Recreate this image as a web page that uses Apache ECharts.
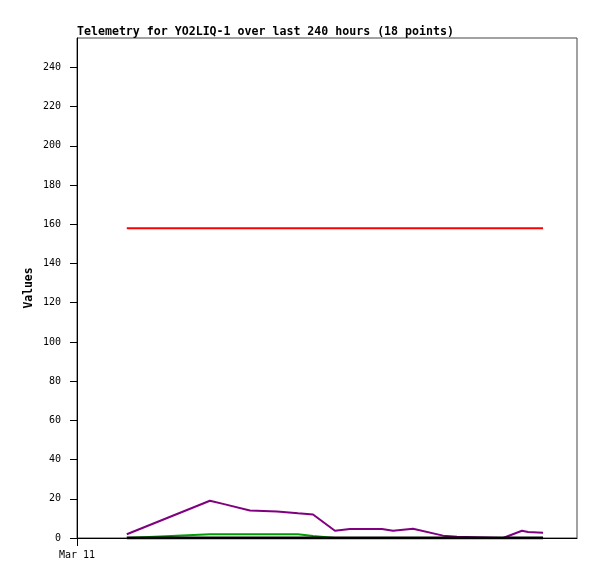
<!DOCTYPE html>
<html>
<head>
<meta charset="utf-8">
<script src="https://cdn.jsdelivr.net/npm/echarts@6/dist/echarts.min.js"></script>
<style>
html,body{margin:0;padding:0;background:#fff;}
#chart{width:597px;height:579px;}
</style>
</head>
<body>
<div id="chart"></div>
<script>
// hours since Mar 11 00:00
var hours = [23.9, 63.8, 70.1, 83.0, 96.0, 106.1, 113.3, 123.8, 131.0, 146.4, 151.7, 161.3, 175.7, 182.4, 204.5, 213.6, 216.5, 223.7];
var purpleValues = [1.9, 19.0, 17.4, 14.0, 13.5, 12.6, 12.0, 3.7, 4.6, 4.6, 3.7, 4.7, 1.2, 0.6, 0, 3.7, 3.1, 2.7];
var redValues = [158, 158, 158, 158, 158, 158, 158, 158, 158, 158, 158, 158, 158, 158, 158, 158, 158, 158];
var greenValues = [0, 1.9, 1.9, 1.9, 1.9, 1.9, 1.0, 0, 0, 0, 0, 0, 0, 0, 0, 0, 0, 0];
var blackValues = [0, 0, 0, 0, 0, 0, 0, 0, 0, 0, 0, 0, 0, 0, 0, 0, 0, 0];
var yTicks = [0, 20, 40, 60, 80, 100, 120, 140, 160, 180, 200, 220, 240];
var xTickLabels = ['Mar 11'];
var xTickValues = [0];
var titleText = 'Telemetry for YO2LIQ-1 over last 240 hours (18 points)';

function pairs(vals){ return hours.map(function(h,i){ return [h, vals[i]]; }); }

var font = 'DejaVu Sans Mono, Liberation Mono, monospace';
var chart = echarts.init(document.getElementById('chart'), null, {renderer:'canvas'});
function mk(name, vals, color, w){
  return {name:name, type:'line', data:pairs(vals), symbol:'none', animation:false,
    lineStyle:{color:color, width:w}, itemStyle:{color:color}};
}
chart.setOption({
  animation:false,
  backgroundColor:'#fff',
  title:{text:titleText, left:77, top:26, padding:0,
    textStyle:{fontFamily:font, fontSize:11.6, fontWeight:'bold', color:'#000'}},
  grid:{left:77, top:38, width:500, height:500, show:true, borderColor:'#444', borderWidth:1, backgroundColor:'#fff'},
  xAxis:{type:'value', min:0, max:240,
    axisLine:{lineStyle:{color:'#000', width:1}},
    axisTick:{show:true, length:8, customValues:xTickValues, lineStyle:{color:'#000'}},
    axisLabel:{customValues:xTickValues, margin:12, formatter:function(v){ var i = xTickValues.indexOf(v); return i>=0 ? xTickLabels[i] : ''; },
      fontFamily:font, fontSize:10, color:'#000'},
    splitLine:{show:false}},
  yAxis:{type:'value', min:0, max:255, name:'Values', nameLocation:'middle', nameGap:42, nameMoveOverlap:false,
    nameTextStyle:{fontFamily:font, fontSize:11.4, fontWeight:'bold', color:'#000'},
    axisLine:{show:true, lineStyle:{color:'#000', width:1}},
    axisTick:{show:true, length:7, customValues:yTicks, lineStyle:{color:'#000'}},
    axisLabel:{customValues:yTicks, margin:16, fontFamily:font, fontSize:10, color:'#000'},
    splitLine:{show:false}},
  series:[
    mk('red', redValues, '#ff0000', 2),
    mk('green', greenValues, '#00a000', 2),
    mk('purple', purpleValues, '#800080', 2),
    mk('black', blackValues, '#000000', 3)
  ]
});
</script>
</body>
</html>
